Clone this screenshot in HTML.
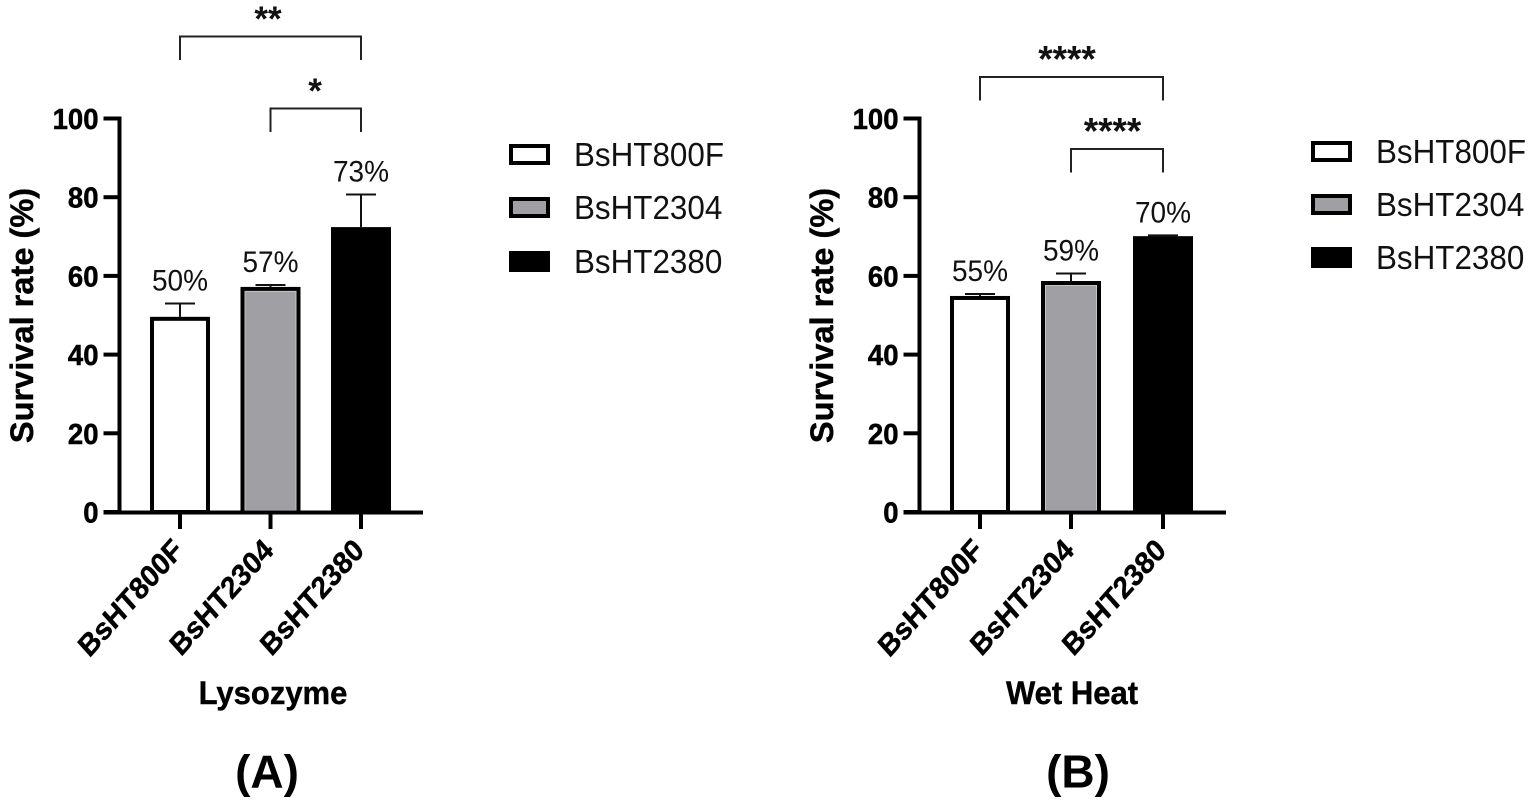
<!DOCTYPE html>
<html>
<head>
<meta charset="utf-8">
<title>Survival rate charts</title>
<style>
html,body{margin:0;padding:0;background:#fff;}
svg{display:block;font-family:"Liberation Sans",sans-serif;}
</style>
</head>
<body>
<svg id="figure" width="1535" height="805" viewBox="0 0 1535 805" xmlns="http://www.w3.org/2000/svg">
<rect x="0" y="0" width="1535" height="805" fill="#fff"/>
</svg>
<script>
var categories = ["BsHT800F", "BsHT2304", "BsHT2380"];
var yTicks = [0, 20, 40, 60, 80, 100];
var lysozymeValues = [49.6, 57.2, 72.4];
var lysozymeErrors = [3.4, 0.5, 8.3];
var lysozymeLabels = ["50%", "57%", "73%"];
var wetHeatValues = [54.9, 58.7, 70.1];
var wetHeatErrors = [0.5, 1.9, 0.2];
var wetHeatLabels = ["55%", "59%", "70%"];

var NS = 'http://www.w3.org/2000/svg';
var svg = document.getElementById('figure');
var barFills = ['#ffffff', '#a0a0a4', '#000000'];

function make(tag, parent, attrs, text) {
  var el = document.createElementNS(NS, tag);
  for (var k in attrs) { el.setAttribute(k, attrs[k]); }
  if (text !== undefined) { el.textContent = text; }
  parent.appendChild(el);
  return el;
}

function stretched(x, y, sy) {
  return 'translate(' + x + ' ' + y + ') scale(1 ' + sy + ')';
}

function drawPanel(cfg) {
  var g = make('g', svg, {});
  
  

  var yScale = function (v) { return 512 - v * 3.935; };
  var xScale = function (i) { return cfg.xs[i]; };

  // bars
  cfg.values.forEach(function (v, i) {
    var x = xScale(i);
    var top = yScale(v);
    var err = yScale(v + cfg.errors[i]);
    var errLine = make('line', g, {x1: x, x2: x, y1: top, y2: err, stroke: '#111', 'stroke-width': 2});
    
    
    var cap = make('line', g, {x1: x - 15, x2: x + 15, y1: err, y2: err, stroke: '#111', 'stroke-width': 2});
    
    
    var bar = make('rect', g, {x: x - 28, y: top + 2, width: 56, height: 512 - top - 2, fill: barFills[i], stroke: '#000', 'stroke-width': 4});
    
    
    if (i === 1) {
      var inner = make('rect', g, {x: x - 25.5, y: top + 4.5, width: 51, height: 512 - top - 6, fill: 'none', stroke: '#c4c4c6', 'stroke-width': 1});
      
      
    }
    var label = make('text', g, {transform: stretched(x, err - 13, 1.07), 'text-anchor': 'middle', 'font-size': 28, fill: '#111'}, cfg.labels[i]);
    
    
  });

  // axes
  var yAxis = make('line', g, {x1: cfg.axisX, x2: cfg.axisX, y1: yScale(100) - 2, y2: 514, stroke: '#000', 'stroke-width': 4});
  
  
  var xAxis = make('line', g, {x1: cfg.axisX - 16, x2: cfg.axisEnd, y1: 512.5, y2: 512.5, stroke: '#000', 'stroke-width': 4});
  
  

  yTicks.forEach(function (t) {
    var y = yScale(t);
    var tick = make('line', g, {x1: cfg.axisX - 16, x2: cfg.axisX, y1: y, y2: y, stroke: '#000', 'stroke-width': 4});
    
    
    var lab = make('text', g, {transform: stretched(cfg.axisX - 21, y + 10.5, 1.06), 'text-anchor': 'end', 'font-size': 27.5, 'font-weight': 'bold', fill: '#000', stroke: '#000', 'stroke-width': 0.5}, String(t));
    
    
  });

  categories.forEach(function (c, i) {
    var x = xScale(i);
    var tick = make('line', g, {x1: x, x2: x, y1: 512, y2: 529, stroke: '#000', 'stroke-width': 4});
    
    
    var lab = make('text', g, {transform: stretched(x + 4.5, 552, 1.12) + ' rotate(-45)', 'text-anchor': 'end', 'font-size': 27.5, 'font-weight': 'bold', fill: '#000', stroke: '#000', 'stroke-width': 0.4}, c);
    
    
  });

  // axis titles
  var ty = 315.5;
  var yTitle = make('text', g, {x: cfg.titleX, y: ty, 'text-anchor': 'middle', 'font-size': 32.6, 'font-weight': 'bold', fill: '#000', stroke: '#000', 'stroke-width': 0.4, transform: 'rotate(-90 ' + cfg.titleX + ' ' + ty + ')'}, 'Survival rate (%)');
  
  
  var xTitle = make('text', g, {transform: stretched(cfg.xTitleX, 704, 1.06), 'text-anchor': 'middle', 'font-size': 31, 'font-weight': 'bold', fill: '#000', stroke: '#000', 'stroke-width': 0.4}, cfg.xTitle);
  
  
  var tag = make('text', g, {x: cfg.tagX, y: 787.5, 'text-anchor': 'middle', 'font-size': 46, 'font-weight': 'bold', fill: '#000'}, cfg.tag);
  
  

  // significance brackets
  cfg.brackets.forEach(function (b, i) {
    var x1 = xScale(b.from), x2 = xScale(b.to);
    var path = make('path', g, {d: 'M' + x1 + ' ' + (b.y + 23.5) + 'V' + b.y + 'H' + x2 + 'V' + (b.y + 23.5), fill: 'none', stroke: '#222', 'stroke-width': 2});
    
    
    var star = make('text', g, {x: (x1 + x2) / 2 + b.dx, y: b.y - 5.5, 'text-anchor': 'middle', 'font-size': b.size, 'font-weight': 'bold', fill: '#111'}, b.stars);
    
    
  });

  // legend
  categories.forEach(function (c, i) {
    var y = cfg.legendY[i];
    var sw = make('rect', g, {x: cfg.legendX + 2, y: y + 2, width: 37, height: 17, fill: barFills[i], stroke: '#000', 'stroke-width': 4});
    
    
    var t = make('text', g, {transform: stretched(cfg.legendX + 65, y + 22, 1.07), 'font-size': 31.4, fill: '#111'}, c);
    
    
  });
}

drawPanel({
  id: 'lysozyme', values: lysozymeValues, errors: lysozymeErrors, labels: lysozymeLabels,
  xs: [180, 270.5, 361], axisX: 119.5, axisEnd: 423, titleX: 33, xTitleX: 273, xTitle: 'Lysozyme',
  tagX: 267, tag: '(A)', legendX: 509, legendY: [144, 197, 251],
  brackets: [{from: 0, to: 2, y: 36.5, stars: '**', dx: -2.5, size: 35}, {from: 1, to: 2, y: 108.5, stars: '*', dx: -0.7, size: 35}]
});
drawPanel({
  id: 'wet-heat', values: wetHeatValues, errors: wetHeatErrors, labels: wetHeatLabels,
  xs: [980, 1071, 1163], axisX: 919.5, axisEnd: 1226, titleX: 833, xTitleX: 1072, xTitle: 'Wet Heat',
  tagX: 1078, tag: '(B)', legendX: 1311, legendY: [141, 194, 247],
  brackets: [{from: 0, to: 2, y: 77, stars: '****', dx: -4.5, size: 37}, {from: 1, to: 2, y: 149, stars: '****', dx: -4.5, size: 37}]
});
</script>
</body>
</html>
